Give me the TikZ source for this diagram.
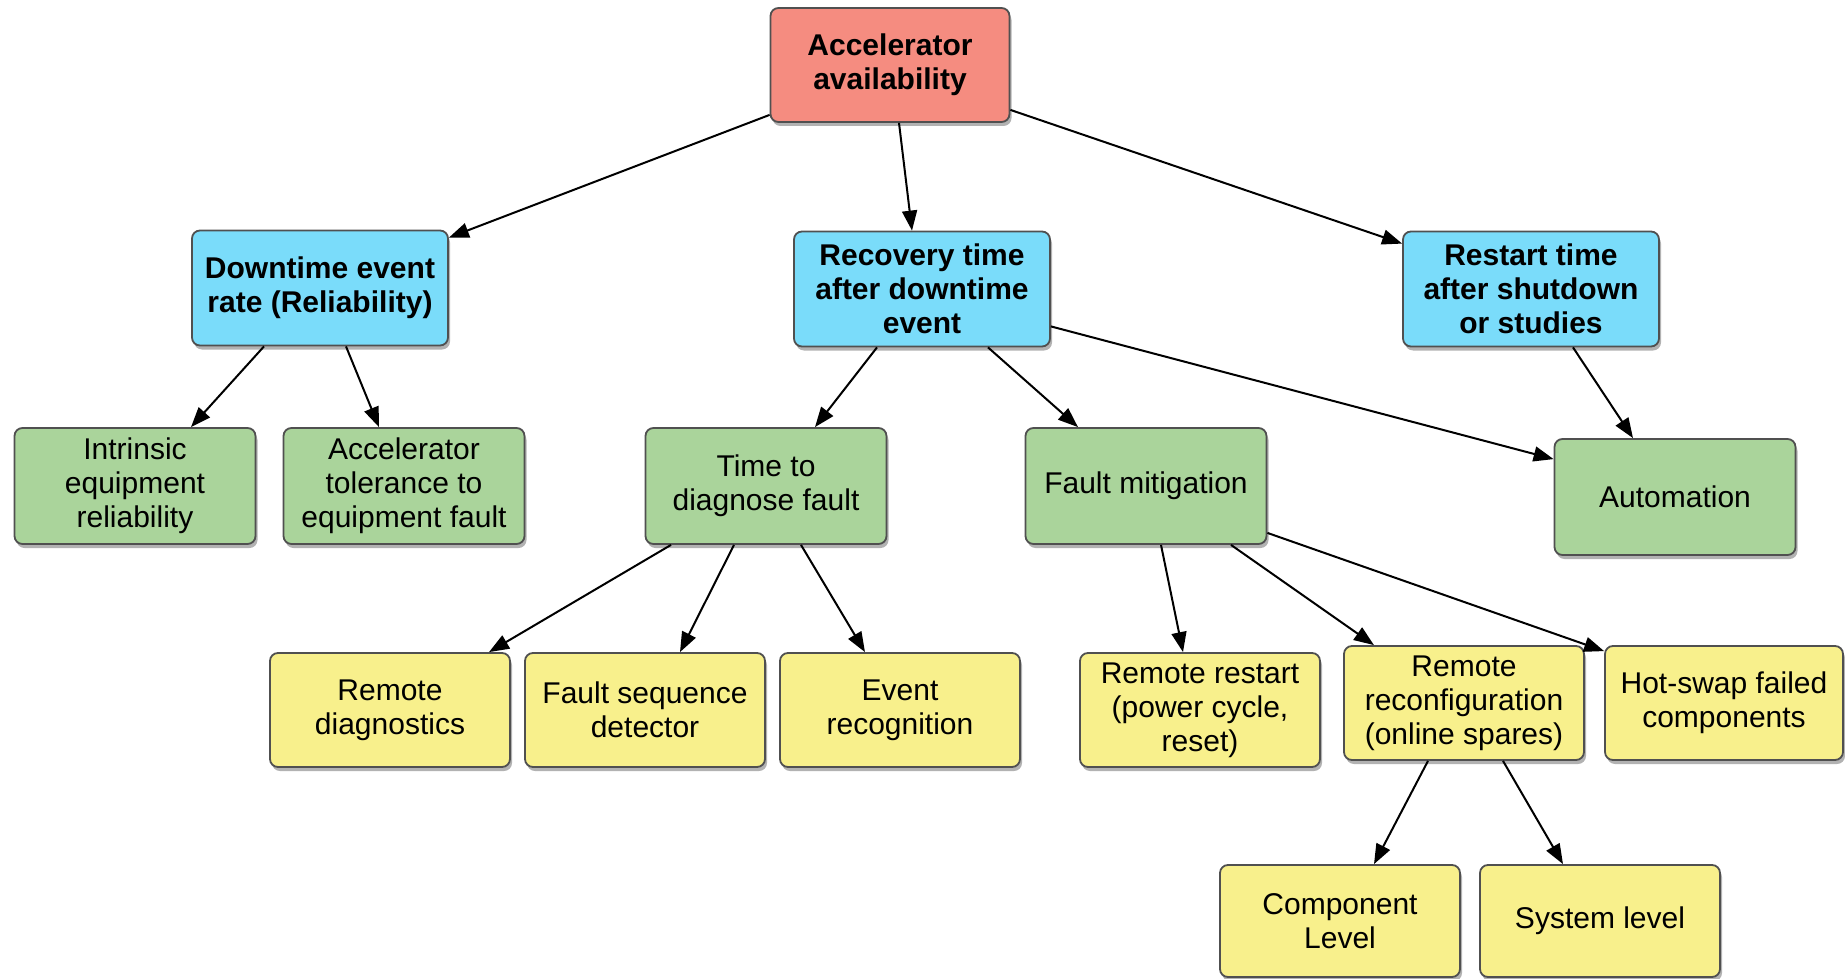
\documentclass[tikz,border=0pt]{standalone}
\usepackage{fontspec}
\setmainfont{Liberation Sans}
\usetikzlibrary{arrows.meta,shadows}

\definecolor{boxred}{RGB}{245,140,128}
\definecolor{boxblue}{RGB}{122,220,250}
\definecolor{boxgreen}{RGB}{170,212,155}
\definecolor{boxyellow}{RGB}{248,240,140}
\definecolor{boxedge}{RGB}{80,80,80}

\tikzset{
  box/.style={draw=boxedge, line width=1.8pt, rounded corners=8pt,
    align=center, inner sep=2pt,
    font=\fontsize{30}{34}\selectfont,
    drop shadow={shadow xshift=2pt, shadow yshift=-4pt, opacity=0.3, fill=black}},
  topbox/.style={box, minimum width=256pt, minimum height=115pt,
    font=\fontsize{30}{34}\selectfont\bfseries},
  rootbox/.style={topbox, fill=boxred, minimum width=239pt, minimum height=114pt},
  bluebox/.style={topbox, fill=boxblue},
  greenbox/.style={box, fill=boxgreen, minimum width=241pt, minimum height=116pt},
  yellowbox/.style={box, fill=boxyellow, minimum width=240pt, minimum height=114pt},
  link/.style={line width=2pt, black, -{Triangle[length=20pt,width=15pt]}}
}

\begin{document}
\begin{tikzpicture}[x=1pt, y=-1pt]
\useasboundingbox (0,0) rectangle (1845,979);

% root
\node[rootbox] (acc) at (890,65) {Accelerator\\availability};

% first level
\node[bluebox] (down) at (320,288) {Downtime event\\rate (Reliability)};
\node[bluebox] (rec)  at (922,289) {Recovery time\\after downtime\\event};
\node[bluebox] (rst)  at (1531,289) {Restart time\\after shutdown\\or studies};

% second level
\node[greenbox] (intr) at (135,486) {Intrinsic\\equipment\\reliability};
\node[greenbox] (tol)  at (404,486) {Accelerator\\tolerance to\\equipment fault};
\node[greenbox] (diag) at (766,486) {Time to\\diagnose fault};
\node[greenbox] (mit)  at (1146,486) {Fault mitigation};
\node[greenbox] (auto) at (1675,497) {Automation};

% third level
\node[yellowbox] (rdiag) at (390,710) {Remote\\diagnostics};
\node[yellowbox] (fseq)  at (645,710) {Fault sequence\\detector};
\node[yellowbox] (evt)   at (900,710) {Event\\recognition};
\node[yellowbox] (rrst)  at (1200,710) {Remote restart\\(power cycle,\\reset)};
\node[yellowbox] (rcfg)  at (1464,703) {Remote\\reconfiguration\\(online spares)};
\node[yellowbox, minimum width=238pt] (hot) at (1724,703) {Hot-swap failed\\components};

% fourth level
\node[yellowbox, minimum height=112pt] (comp) at (1340,921) {Component\\Level};
\node[yellowbox, minimum height=112pt] (sys)  at (1600,921) {System level};

% connectors
\draw[link] ([yshift=8pt]acc.south west) -- ([yshift=-8pt]down.north east);
\draw[link] ([xshift=9pt]acc.south) -- ([xshift=-10pt]rec.north);
\draw[link] ([yshift=13pt]acc.south east) -- ([yshift=-13pt]rst.north west);

\draw[link] ([xshift=-56pt]down.south) -- ([xshift=56pt]intr.north);
\draw[link] ([xshift=26pt]down.south) -- ([xshift=-25pt]tol.north);

\draw[link] ([xshift=-45pt]rec.south) -- ([xshift=49pt]diag.north);
\draw[link] ([xshift=66pt]rec.south) -- ([xshift=-68pt]mit.north);
\draw[link] ([yshift=21pt]rec.south east) -- ([yshift=-21pt]auto.north west);
\draw[link] ([xshift=42pt]rst.south) -- ([xshift=-42pt]auto.north);

\draw[link] ([xshift=-95pt]diag.south) -- ([xshift=99pt]rdiag.north);
\draw[link] ([xshift=-32pt]diag.south) -- ([xshift=35pt]fseq.north);
\draw[link] ([xshift=35pt]diag.south) -- ([xshift=-35pt]evt.north);

\draw[link] ([xshift=15pt]mit.south) -- ([xshift=-17pt]rrst.north);
\draw[link] ([xshift=85pt]mit.south) -- ([xshift=-90pt]rcfg.north);
\draw[link] ([yshift=12pt]mit.south east) -- ([yshift=-6pt]hot.north west);

\draw[link] ([xshift=-36pt]rcfg.south) -- ([xshift=34pt]comp.north);
\draw[link] ([xshift=39pt]rcfg.south) -- ([xshift=-37pt]sys.north);
\end{tikzpicture}
\end{document}
